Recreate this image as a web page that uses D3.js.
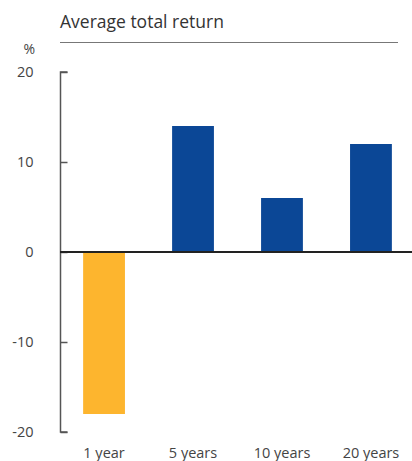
<!DOCTYPE html>
<html>
<head>
<meta charset="utf-8">
<script src="https://cdn.jsdelivr.net/npm/d3@7"></script>
<style>
body { margin: 0; background: #fff; }
text { font-family: "Open Sans", "Noto Sans", sans-serif; }
</style>
</head>
<body>
<div class="visHolder"></div>
<script>
const w = 412;
const h = 461;

// data
const periods = ['1 year', '5 years', '10 years', '20 years'];
const returns = [-18, 14, 6, 12];
const yTicks = [-20, -10, 0, 10, 20];

const svg = d3.select('.visHolder').append('svg').attr('width', w).attr('height', h)

const xScale = d3.scaleBand().domain(periods).range([60, 415]).paddingInner(0.53).paddingOuter(0.26)
const yScale = d3.scaleLinear().domain([-20, 20]).range([432, 72])

// title
svg.append('text').attr('x', 60).attr('y', 28).text('Average total return')
.attr('font-size', 17.5).attr('fill', '#333')
svg.append('line').attr('x1', 60).attr('x2', 398).attr('y1', 42.5).attr('y2', 42.5)
.attr('stroke', '#777').attr('stroke-width', 1)

svg.append('text').attr('x', 35).attr('y', 54).attr('text-anchor', 'end').text('%')
.attr('font-size', 14).attr('fill', '#444')

// bars
svg.selectAll('rect').data(periods).enter().append('rect')
.attr('x', (d) => xScale(d))
.attr('y', (d, i) => yScale(Math.max(0, returns[i])))
.attr('width', xScale.bandwidth())
.attr('height', (d, i) => Math.abs(yScale(returns[i]) - yScale(0)))
.attr('fill', (d, i) => returns[i] < 0 ? '#FDB52E' : '#0B4796')

// y axis
const yAxis = d3.axisRight(yScale).tickValues(yTicks).tickSize(7).tickFormat((d) => String(d))
const gy = svg.append('g').attr('transform', 'translate(60.5,0)').call(yAxis)
gy.select('.domain').attr('stroke', '#555').attr('stroke-width', 1.5).attr('d', 'M7,' + yScale(20) + 'H0V' + yScale(-20) + 'H7')
gy.selectAll('.tick line').attr('stroke', '#555').attr('stroke-width', 1.5)
gy.selectAll('.tick text').attr('x', -27).attr('text-anchor', 'end').attr('font-size', 14.5).attr('fill', '#444')
.attr('font-family', '"Open Sans", sans-serif')

// zero line
svg.append('line').attr('x1', 60).attr('x2', 412).attr('y1', yScale(0)).attr('y2', yScale(0))
.attr('stroke', '#222').attr('stroke-width', 2)

// x labels
svg.selectAll('.xlab').data(periods).enter().append('text').attr('class', 'xlab')
.attr('x', (d) => xScale(d) + xScale.bandwidth() / 2)
.attr('y', 458).attr('text-anchor', 'middle').text((d) => d)
.attr('font-size', 14.5).attr('fill', '#444')
</script>
</body>
</html>
